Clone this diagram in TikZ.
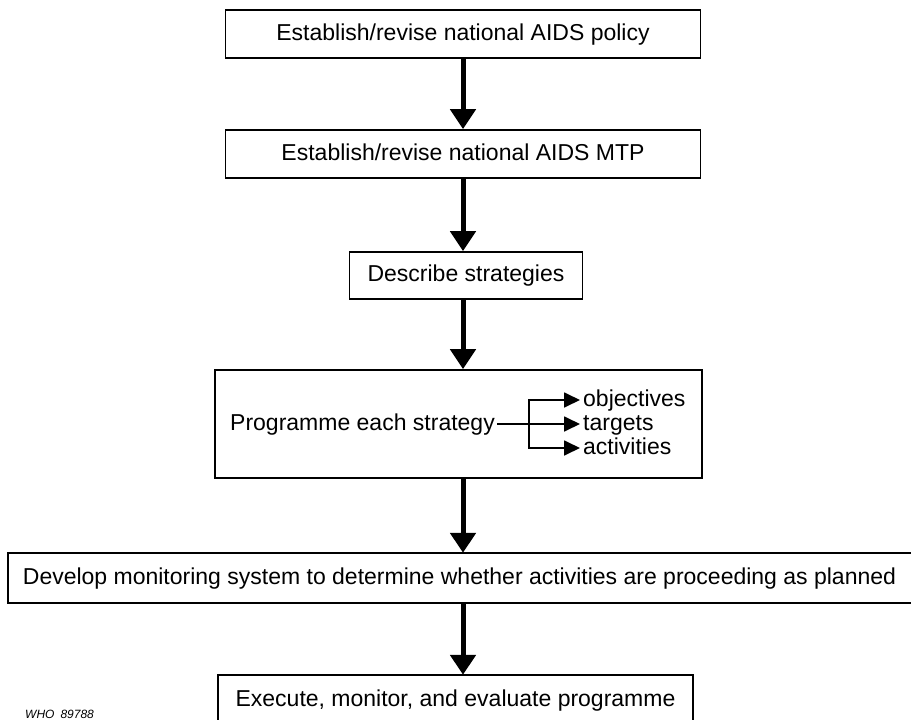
\documentclass[tikz,border=0pt]{standalone}
\usepackage{fontspec}
\setmainfont{Liberation Sans}
\usetikzlibrary{arrows.meta}
\begin{document}
\begin{tikzpicture}[x=1pt,y=-1pt,
  boxtext/.style={font=\fontsize{23}{27}\selectfont, inner sep=0pt, text height=16.5pt, text depth=4.5pt, align=center},
  flowbox/.style={boxtext, draw, line width=1.8pt},
  bigarrow/.style={line width=5pt, -{Triangle[width=25pt,length=20pt]}},
  smallarrow/.style={line width=1.8pt, line cap=rect, -{Triangle[width=15pt,length=16pt]}},
  frame/.style={line width=1.8pt},
  branchtext/.style={boxtext, inner sep=3pt, anchor=west}]
\useasboundingbox (0,0) rectangle (911,720);
% boxes
\node[flowbox, minimum width=475pt, minimum height=48pt] (b1) at (463,34) {Establish/revise national AIDS policy};
\node[flowbox, minimum width=475pt, minimum height=48pt] (b2) at (463,154) {Establish/revise national AIDS MTP};
\node[flowbox, minimum width=233pt, minimum height=47pt] (b3) at (466,275.5) {Describe strategies};
\node[flowbox, minimum width=487pt, minimum height=108pt] (b4) at (458.5,424) {};
\node[boxtext, minimum width=903pt, minimum height=50pt] (b5) at (459.5,578) {Develop monitoring system to determine whether activities are proceeding as planned};
\node[boxtext, minimum width=475pt, minimum height=50pt] (b6) at (455.5,700) {Execute, monitor, and evaluate programme};
% open frames of the boxes cut by the page edge
\draw[frame] (b5.north east) -- (b5.north west) -- (b5.south west) -- (b5.south east);
\draw[frame] ([yshift=-45pt]b6.north west) -- (b6.north west) -- (b6.north east) -- ([yshift=-45pt]b6.north east);
% inside box 4
\node[boxtext, inner sep=3pt, anchor=east] (pes) at (498,424) {Programme each strategy};
\node[branchtext] (ob) at (580,400) {objectives};
\node[branchtext] (tg) at (580,424) {targets};
\node[branchtext] (ac) at (580,448) {activities};
\coordinate (fork) at (529,424);
\draw[smallarrow] (pes.east) -- (tg.west);
\draw[smallarrow] (ac.west -| fork) -- (ob.west -| fork) -- (ob.west);
\draw[smallarrow] (ac.west -| fork) -- (ac.west);
% main arrows
\draw[bigarrow] (b1.south) -- (b2.north);
\draw[bigarrow] (b2.south) -- (b2.south |- b3.north);
\draw[bigarrow] (b3.south -| b1.south) -- (b4.north -| b1.south);
\draw[bigarrow] (b4.south -| b1.south) -- (b5.north -| b1.south);
\draw[bigarrow] (b5.south -| b1.south) -- (b6.north -| b1.south);
% reference number
\node[font=\fontsize{12}{12}\selectfont\itshape, anchor=base west, inner sep=0pt] (who) at (25,718) {WHO\hspace{0.5em}89788};
\end{tikzpicture}
\end{document}
